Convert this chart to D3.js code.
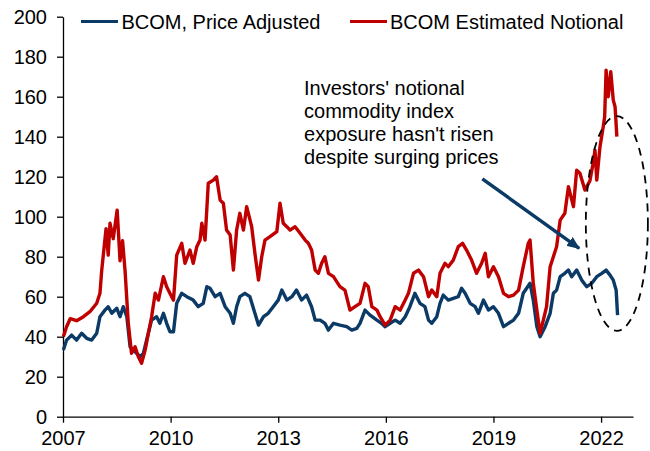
<!DOCTYPE html>
<html>
<head>
<meta charset="utf-8">
<script src="https://cdnjs.cloudflare.com/ajax/libs/d3/7.8.5/d3.min.js"></script>
<style>
  html, body { margin: 0; padding: 0; background: #fff; }
  svg { display: block; font-family: "Liberation Sans", Arial, sans-serif; }
</style>
</head>
<body>
<div id="chart"></div>
<script>
// BCOM estimated notional vs price adjusted index (decimal years)
const notionalDates = [
  2007.01, 2007.10, 2007.20, 2007.38, 2007.57, 2007.75, 2007.94, 2008.03, 2008.08, 2008.20,
  2008.26, 2008.31, 2008.40, 2008.51, 2008.59, 2008.66, 2008.73, 2008.82, 2008.91, 2009.01,
  2009.10, 2009.19, 2009.29, 2009.38, 2009.47, 2009.57, 2009.66, 2009.80, 2009.89, 2009.98,
  2010.08, 2010.17, 2010.31, 2010.40, 2010.54, 2010.63, 2010.73, 2010.82, 2010.87, 2010.96,
  2011.05, 2011.19, 2011.28, 2011.38, 2011.47, 2011.56, 2011.66, 2011.75, 2011.84, 2011.93,
  2012.03, 2012.12, 2012.26, 2012.35, 2012.45, 2012.54, 2012.63, 2012.77, 2012.96, 2013.05,
  2013.14, 2013.24, 2013.33, 2013.47, 2013.61, 2013.75, 2013.84, 2013.93, 2014.03, 2014.12,
  2014.21, 2014.30, 2014.40, 2014.54, 2014.72, 2014.86, 2015.00, 2015.14, 2015.28, 2015.42,
  2015.51, 2015.61, 2015.75, 2015.84, 2015.98, 2016.12, 2016.26, 2016.40, 2016.54, 2016.63,
  2016.77, 2016.91, 2017.05, 2017.19, 2017.28, 2017.42, 2017.51, 2017.65, 2017.74, 2017.88,
  2018.02, 2018.14, 2018.25, 2018.39, 2018.53, 2018.67, 2018.77, 2018.86, 2019.00, 2019.14,
  2019.28, 2019.42, 2019.56, 2019.70, 2019.83, 2019.97, 2020.02, 2020.11, 2020.21, 2020.30,
  2020.39, 2020.48, 2020.58, 2020.67, 2020.76, 2020.86, 2020.99, 2021.09, 2021.23, 2021.32,
  2021.41, 2021.55, 2021.69, 2021.79, 2021.83, 2021.88, 2021.97, 2022.06, 2022.10, 2022.14,
  2022.20, 2022.27, 2022.34, 2022.39, 2022.44
];
const notionalValues = [
  40, 45, 49, 48, 50, 52.5, 56.7, 61.7, 73.3, 94,
  80.8, 96.7, 89, 103.3, 78, 88, 73, 46.7, 31.7, 35,
  30, 26.7, 33.3, 41.7, 50, 61.7, 58.3, 70, 65, 61.7,
  58.3, 80.8, 86.7, 76.7, 83.3, 76.7, 85, 88.3, 96.7, 88.3,
  116.7, 118.3, 120, 108.3, 106.7, 93.3, 90.8, 73.3, 93.3, 101.7,
  93.3, 105, 95, 81.7, 68.3, 80, 88.3, 90, 92.5, 106.7,
  96.7, 95, 93.3, 95, 91.7, 88.3, 86.7, 83.3, 73.3, 71.7,
  76.7, 80, 71.7, 70, 65, 63.3, 53.3, 55, 56.7, 66.7,
  65, 55, 53.3, 50, 45.8, 48.3, 55, 53.3, 58.3, 61.7,
  71.7, 73.3, 70, 60, 63.3, 60, 71.7, 76.7, 75, 78.3,
  85, 86.7, 83.3, 78.3, 71.7, 76.7, 81.7, 70, 75, 70,
  61.7, 60, 60.8, 63.3, 75, 86.7, 88.3, 66.7, 53.3, 41.7,
  48.3, 55, 75, 80, 85, 98.3, 101.7, 115, 105, 123.3,
  121.7, 113.3, 118, 128, 133.3, 118.3, 135, 145, 150, 173.3,
  160, 172.5, 158.3, 155, 140
];

const priceDates = [
  2007.01, 2007.10, 2007.24, 2007.38, 2007.52, 2007.66, 2007.80, 2007.94, 2008.03, 2008.17,
  2008.26, 2008.36, 2008.50, 2008.59, 2008.68, 2008.78, 2008.87, 2009.01, 2009.15, 2009.24,
  2009.33, 2009.47, 2009.61, 2009.70, 2009.80, 2009.89, 2009.98, 2010.08, 2010.17, 2010.31,
  2010.45, 2010.63, 2010.77, 2010.91, 2011.01, 2011.10, 2011.24, 2011.38, 2011.52, 2011.66,
  2011.75, 2011.84, 2011.93, 2012.07, 2012.21, 2012.35, 2012.45, 2012.59, 2012.72, 2012.86,
  2013.00, 2013.10, 2013.24, 2013.38, 2013.51, 2013.65, 2013.79, 2013.93, 2014.03, 2014.17,
  2014.30, 2014.40, 2014.54, 2014.72, 2014.91, 2015.05, 2015.19, 2015.28, 2015.42, 2015.56,
  2015.75, 2015.88, 2015.98, 2016.12, 2016.26, 2016.40, 2016.54, 2016.67, 2016.81, 2016.95,
  2017.09, 2017.19, 2017.28, 2017.42, 2017.51, 2017.60, 2017.74, 2017.88, 2018.02, 2018.11,
  2018.21, 2018.35, 2018.49, 2018.58, 2018.72, 2018.86, 2019.00, 2019.14, 2019.28, 2019.42,
  2019.56, 2019.70, 2019.83, 2020.02, 2020.11, 2020.21, 2020.30, 2020.44, 2020.58, 2020.67,
  2020.76, 2020.86, 2020.99, 2021.09, 2021.18, 2021.32, 2021.46, 2021.60, 2021.74, 2021.88,
  2022.02, 2022.14, 2022.25, 2022.34, 2022.42, 2022.46
];
const priceValues = [
  33.3, 38.3, 40.8, 38.3, 41.7, 39.2, 38.3, 41.7, 50, 53.3,
  55, 51.7, 54.2, 50, 55, 50, 35, 32.5, 30, 31.7,
  38.3, 48.3, 50, 46.7, 51.7, 46.7, 42.5, 42.5, 56.7, 61.7,
  60, 58.3, 55, 56.7, 65, 64.2, 60, 61.7, 55, 51.7,
  46.7, 55, 60, 61.7, 60, 51.7, 45.8, 50, 51.7, 55,
  58.3, 63.3, 58.3, 60, 63.3, 58.3, 60.8, 55, 48.3, 48.3,
  46.7, 43.3, 46.7, 45.8, 45, 43.3, 44.2, 46.7, 53.3, 50.8,
  48.3, 46.7, 45, 46.7, 48.3, 46.7, 50, 55, 61.7, 56.7,
  55, 48.3, 46.7, 50, 56.7, 60.8, 58.3, 59.2, 60, 64.2,
  61.7, 56.7, 55, 51.7, 58.3, 53.3, 55, 51.7, 45, 46.7,
  48.3, 51.7, 61.7, 66.7, 58.3, 45, 40, 45, 51.7, 61.7,
  63.3, 70, 71.7, 73.3, 70, 73.3, 68.3, 65, 66.7, 70,
  71.7, 73.3, 70.8, 68.3, 63.3, 50.8
];

const seriesNames = ["BCOM, Price Adjusted", "BCOM Estimated Notional"];
const seriesColors = ["#0B3A66", "#C00000"];
const yTicks = [0, 20, 40, 60, 80, 100, 120, 140, 160, 180, 200];
const xTicks = [2007, 2010, 2013, 2016, 2019, 2022];

const noteLines = ["Investors' notional", "commodity index", "exposure hasn't risen", "despite surging prices"];
// annotation anchors in data units [year, value]
const noteAnchor = [2013.72, 161];
const arrowFrom = [2018.69, 118.9];
const arrowTo = [2021.39, 84.2];
const ringCenter = [2022.44, 96.6];
const ringRadius = [0.865, 53.7];

const width = 650, height = 451;
const margin = {top: 16.7, right: 17, bottom: 34.3, left: 63};

const svg = d3.select("#chart").append("svg")
  .attr("width", width)
  .attr("height", height);

const x = d3.scaleLinear()
  .domain([2007, 2022.89])
  .range([margin.left, width - margin.right]);

const y = d3.scaleLinear()
  .domain([0, 200])
  .range([height - margin.bottom, margin.top]);

// axes
const yAxis = svg.append("g")
  .attr("transform", `translate(${margin.left},0)`)
  .call(d3.axisLeft(y).tickValues(yTicks).tickSize(6).tickPadding(10).tickSizeOuter(0));

const xAxis = svg.append("g")
  .attr("transform", `translate(0,${y(0)})`)
  .call(d3.axisBottom(x).tickValues(xTicks).tickFormat(d3.format("d"))
    .tickSize(6).tickPadding(8).tickSizeOuter(0));

[xAxis, yAxis].forEach(g => {
  g.selectAll("path, line").attr("stroke", "#000").attr("stroke-width", 1.3);
  g.selectAll("text")
    .attr("fill", "#000")
    .style("font-size", "20px")
    .style("font-family", "'Liberation Sans', Arial, sans-serif");
});

// series
const line = d3.line()
  .x(d => x(d[0]))
  .y(d => y(d[1]));

const priceData = priceDates.map((d, i) => [d, priceValues[i]]);
const notionalData = notionalDates.map((d, i) => [d, notionalValues[i]]);

svg.append("path")
  .datum(priceData)
  .attr("fill", "none")
  .attr("stroke", seriesColors[0])
  .attr("stroke-width", 3.4)
  .attr("stroke-linejoin", "round")
  .attr("d", line);

svg.append("path")
  .datum(notionalData)
  .attr("fill", "none")
  .attr("stroke", seriesColors[1])
  .attr("stroke-width", 3.4)
  .attr("stroke-linejoin", "round")
  .attr("d", line);

// legend
const legendPos = [[81, 121.5], [350, 390]];
seriesNames.forEach((name, i) => {
  const [lx, tx] = legendPos[i];
  svg.append("line")
    .attr("x1", lx).attr("x2", lx + 37)
    .attr("y1", 21.5).attr("y2", 21.5)
    .attr("stroke", seriesColors[i])
    .attr("stroke-width", 3.2);
  svg.append("text")
    .attr("x", tx)
    .attr("y", 28.5)
    .attr("fill", "#000")
    .style("font-size", "20px")
    .text(name);
});

// annotation text
const note = svg.append("text")
  .attr("x", x(noteAnchor[0]))
  .attr("y", y(noteAnchor[1]))
  .attr("fill", "#000")
  .style("font-size", "20px");
noteLines.forEach((t, i) => {
  note.append("tspan")
    .attr("x", x(noteAnchor[0]))
    .attr("dy", i === 0 ? 0 : 23)
    .text(t);
});

// arrow
svg.append("defs").append("marker")
  .attr("id", "head")
  .attr("viewBox", "0 0 12 10")
  .attr("refX", 11)
  .attr("refY", 5)
  .attr("markerUnits", "userSpaceOnUse")
  .attr("markerWidth", 13)
  .attr("markerHeight", 11)
  .attr("orient", "auto")
  .append("path")
  .attr("d", "M0,0 L12,5 L0,10 Z")
  .attr("fill", seriesColors[0]);

svg.append("line")
  .attr("x1", x(arrowFrom[0])).attr("y1", y(arrowFrom[1]))
  .attr("x2", x(arrowTo[0])).attr("y2", y(arrowTo[1]))
  .attr("stroke", seriesColors[0])
  .attr("stroke-width", 3.5)
  .attr("marker-end", "url(#head)");

// dashed ring
svg.append("ellipse")
  .attr("cx", x(ringCenter[0]))
  .attr("cy", y(ringCenter[1]))
  .attr("rx", x(ringCenter[0] + ringRadius[0]) - x(ringCenter[0]))
  .attr("ry", y(ringCenter[1] - ringRadius[1]) - y(ringCenter[1]))
  .attr("fill", "none")
  .attr("stroke", "#000")
  .attr("stroke-width", 1.8)
  .attr("stroke-dasharray", "8,6");
</script>
</body>
</html>
